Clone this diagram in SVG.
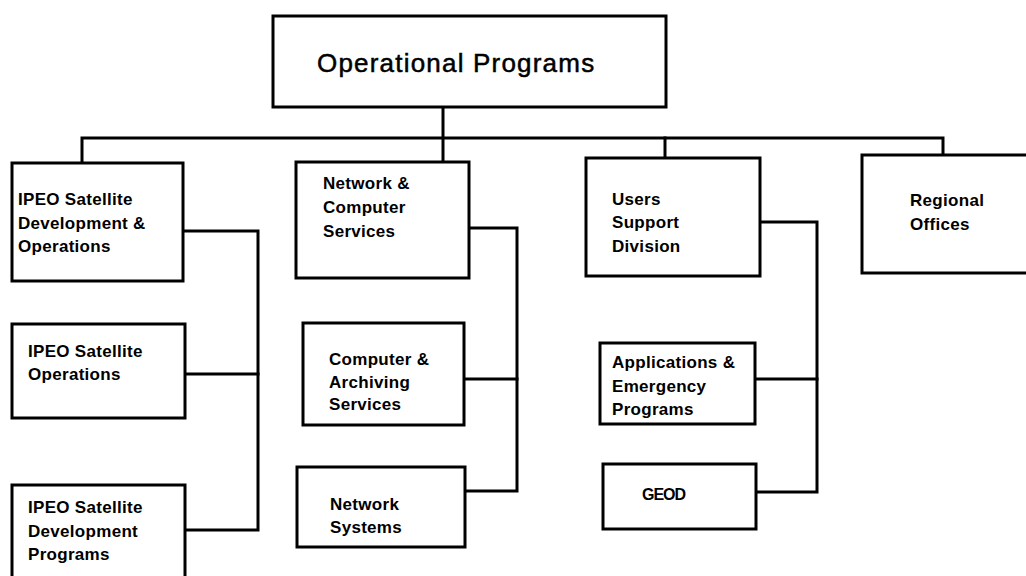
<svg xmlns="http://www.w3.org/2000/svg" width="1026" height="576" viewBox="0 0 1026 576">
  <style>
    .box { fill: #ffffff; stroke: #000000; stroke-width: 3; }
    .wire { fill: none; stroke: #000000; stroke-width: 3; stroke-linejoin: miter; stroke-linecap: square; }
    .title { font-family: "Liberation Sans", Arial, sans-serif; font-size: 26px; fill: #000000; stroke: #000000; stroke-width: 0.5; letter-spacing: 1.2px; }
    .lbl { font-family: "Liberation Sans", Arial, sans-serif; font-size: 17px; font-weight: bold; fill: #000000; letter-spacing: 0.3px; }
    .geod { font-family: "Liberation Sans", Arial, sans-serif; font-size: 16px; font-weight: bold; fill: #000000; letter-spacing: -1px; }
  </style>
  <rect width="1026" height="576" fill="#ffffff"/>

  <!-- connectors -->
  <g id="connectors">
    <!-- trunk from the head office down through the bus -->
    <path class="wire" d="M443,107 V162"/>
    <!-- main bus and its drops -->
    <path class="wire" d="M82,163 V138 H943 V155"/>
    <path class="wire" d="M665,138 V158"/>
    <!-- IPEO branch -->
    <path class="wire" d="M183,231 H258 V530 H185"/>
    <path class="wire" d="M185,374 H258"/>
    <!-- Network & Computer branch -->
    <path class="wire" d="M469,228 H517 V491 H465"/>
    <path class="wire" d="M464,379 H517"/>
    <!-- Users Support branch -->
    <path class="wire" d="M760,222 H817 V492 H756"/>
    <path class="wire" d="M755,379 H817"/>
  </g>

  <g id="operational-programs">
    <rect class="box" x="273" y="16" width="393" height="91"/>
    <text class="title" x="317" y="72">Operational Programs</text>
  </g>

  <g id="ipeo-dev-ops">
    <rect class="box" x="12" y="163" width="171" height="118"/>
    <text class="lbl" x="18" y="205">IPEO Satellite</text>
    <text class="lbl" x="18" y="229">Development &amp;</text>
    <text class="lbl" x="18" y="252">Operations</text>
  </g>

  <g id="ipeo-ops">
    <rect class="box" x="12" y="324" width="173" height="94"/>
    <text class="lbl" x="28" y="357">IPEO Satellite</text>
    <text class="lbl" x="28" y="380">Operations</text>
  </g>

  <g id="ipeo-dev-programs">
    <rect class="box" x="12" y="485" width="173" height="110"/>
    <text class="lbl" x="28" y="513">IPEO Satellite</text>
    <text class="lbl" x="28" y="537">Development</text>
    <text class="lbl" x="28" y="560">Programs</text>
  </g>

  <g id="network-computer">
    <rect class="box" x="296" y="162" width="173" height="116"/>
    <text class="lbl" x="323" y="189">Network &amp;</text>
    <text class="lbl" x="323" y="213">Computer</text>
    <text class="lbl" x="323" y="237">Services</text>
  </g>

  <g id="computer-archiving">
    <rect class="box" x="303" y="323" width="161" height="102"/>
    <text class="lbl" x="329" y="365">Computer &amp;</text>
    <text class="lbl" x="329" y="388">Archiving</text>
    <text class="lbl" x="329" y="410">Services</text>
  </g>

  <g id="network-systems">
    <rect class="box" x="297" y="467" width="168" height="80"/>
    <text class="lbl" x="330" y="510">Network</text>
    <text class="lbl" x="330" y="533">Systems</text>
  </g>

  <g id="users-support">
    <rect class="box" x="586" y="158" width="174" height="118"/>
    <text class="lbl" x="612" y="205">Users</text>
    <text class="lbl" x="612" y="228">Support</text>
    <text class="lbl" x="612" y="252">Division</text>
  </g>

  <g id="applications-emergency">
    <rect class="box" x="600" y="343" width="155" height="81"/>
    <text class="lbl" x="612" y="368">Applications &amp;</text>
    <text class="lbl" x="612" y="392">Emergency</text>
    <text class="lbl" x="612" y="415">Programs</text>
  </g>

  <g id="geod">
    <rect class="box" x="603" y="464" width="153" height="65"/>
    <text class="geod" x="642" y="500">GEOD</text>
  </g>

  <g id="regional-offices">
    <rect class="box" x="862" y="155" width="180" height="118"/>
    <text class="lbl" x="910" y="206">Regional</text>
    <text class="lbl" x="910" y="230">Offices</text>
  </g>
</svg>
